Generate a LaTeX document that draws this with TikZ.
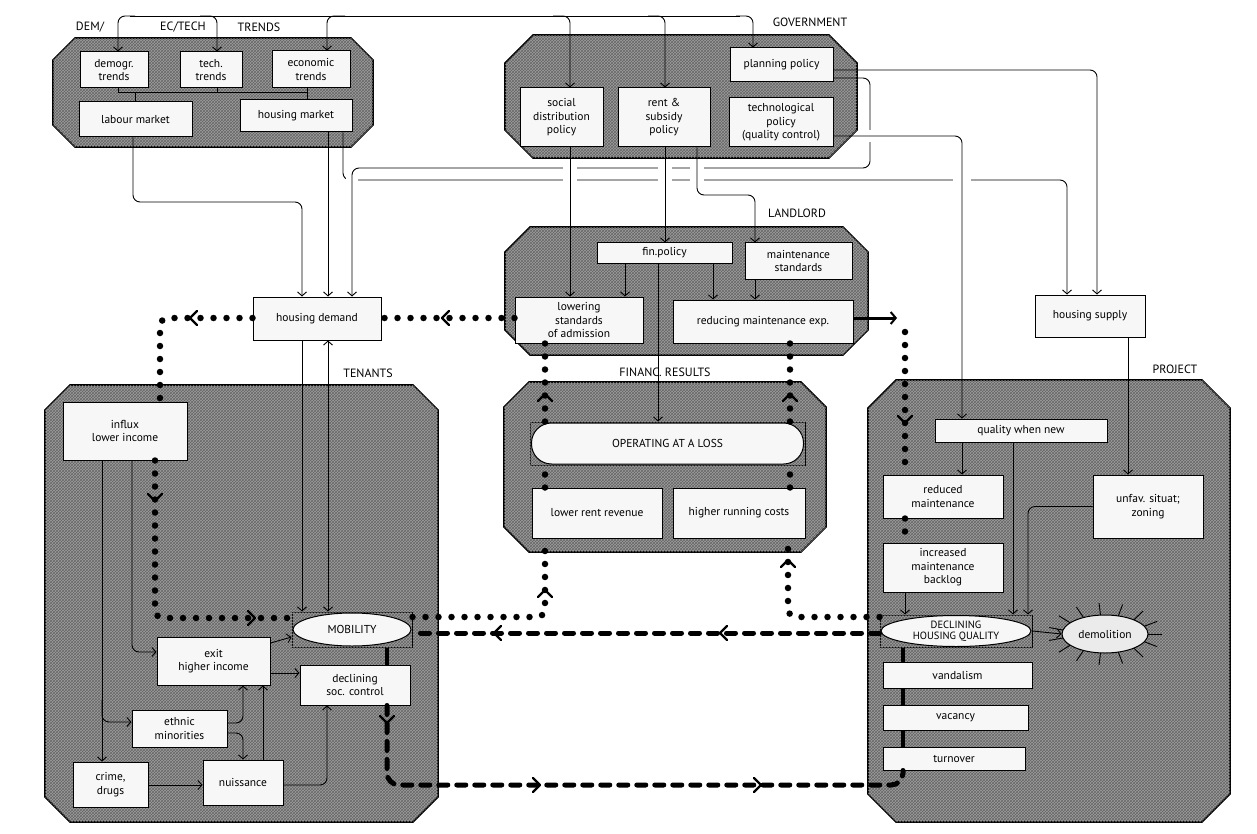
\documentclass[tikz,border=0pt]{standalone}
\usepackage{fontspec}
\setmainfont{PT Sans}
\usetikzlibrary{arrows.meta,patterns,calc,shapes.geometric}
\newcommand\octo[5]{\path[grp] (#1+#5,#2) -- (#3-#5,#2) -- (#3,#2+#5) -- (#3,#4-#5) -- (#3-#5,#4) -- (#1+#5,#4) -- (#1,#4-#5) -- (#1,#2+#5) -- cycle;}
\newcommand\chev[3]{\draw[line width=2.2pt, line cap=round, line join=round, rotate around={#3:(#1,#2)}] (#1-4,#2-7) -- (#1+3,#2) -- (#1-4,#2+7);}
\newcommand\gapat[3]{\draw[white, line width=3.5pt] (#1-#3,#2) -- (#1+#3,#2);}
\tikzset{
  grp/.style={draw=black, line width=1.6pt, fill=black!38, postaction={pattern=crosshatch, pattern color=black!60}},
  ring/.style={draw=black, line width=1pt, fill=black!38, postaction={pattern=crosshatch, pattern color=black!60}, inner sep=0pt},
  bx/.style={draw=black, line width=1pt, fill=black!3, align=center, inner sep=1pt, font=\fontsize{11.5}{13.5}\selectfont},
  inbox/.style={draw=black, line width=1pt, fill=black!3},
  captxt/.style={align=center, inner sep=0pt, font=\fontsize{11.5}{12.5}\selectfont},
  lbl/.style={inner sep=1pt, font=\fontsize{12}{14}\selectfont},
  con/.style={line width=0.9pt, rounded corners=7pt, -{Straight Barb[length=4pt,width=9pt]}},
  conb/.style={line width=0.9pt, {Straight Barb[length=4pt,width=9pt]}-{Straight Barb[length=4pt,width=9pt]}},
  dotl/.style={line width=6.5pt, line cap=round, dash pattern=on 0pt off 13pt, rounded corners=8pt},
  dashl/.style={line width=5pt, line cap=round, dash pattern=on 9pt off 9pt, rounded corners=12pt},
  thk/.style={line width=4.5pt}
}
\begin{document}
\begin{tikzpicture}[x=1pt,y=-1pt]
\fill[white] (0,0) rectangle (1257,834);
\useasboundingbox (0,0) rectangle (1257,834);

% group outlines
\octo{53}{38}{373}{147}{22}
\octo{505}{35}{857}{158}{28}
\octo{505}{227}{868}{355}{25}
\octo{504}{382}{826}{552}{25}
\octo{45}{385}{438}{822}{25}
\octo{868}{380}{1230}{822}{28}

% group labels
\node[lbl] at (90,27) {DEM/};
\node[lbl] at (183,27) {EC/TECH};
\node[lbl] at (259,27) {TRENDS};
\node[lbl] at (810,22) {GOVERNMENT};
\node[lbl] at (797,213) {LANDLORD};
\node[lbl] at (665,372) {FINANC. RESULTS};
\node[lbl] at (368,373) {TENANTS};
\node[lbl] at (1175,369) {PROJECT};

% trends
\node[bx, minimum width=68pt, minimum height=36pt] (dem) at (114,70) {demogr.\\trends};
\node[bx, minimum width=62pt, minimum height=36pt] (tec) at (211,70) {tech.\\trends};
\node[bx, minimum width=78pt, minimum height=37pt] (eco) at (311,69.5) {economic\\trends};
\node[bx, minimum width=113pt, minimum height=35pt] (lab) at (135.5,119.5) {labour market};
\node[bx, minimum width=112pt, minimum height=32pt] (hm) at (296,116) {housing market};

% government
\node[bx, minimum width=103pt, minimum height=34pt] (pp) at (781.5,65) {planning policy};
\node[bx, minimum width=83pt, minimum height=59pt] (sd) at (561.5,117.5) {social\\distribution\\policy};
\node[bx, minimum width=92pt, minimum height=59pt] (rs) at (664,117.5) {rent \&\\subsidy\\policy};
\node[bx, minimum width=104pt, minimum height=49pt] (tp) at (781,122.5) {technological\\policy\\(quality control)};

% landlord
\node[bx, minimum width=135pt, minimum height=20pt] (fp) at (664.5,253) {fin.policy};
\node[bx, minimum width=107pt, minimum height=36pt] (ms) at (798.5,261) {maintenance\\standards};
\node[bx, minimum width=128pt, minimum height=46pt] (low) at (579,320) {lowering\\standards\\of admission};
\node[bx, minimum width=180pt, minimum height=43pt] (red) at (763,321.5) {reducing maintenance exp.};

\node[bx, minimum width=128pt, minimum height=43pt] (hd) at (317,318.5) {housing demand};
\node[bx, minimum width=110pt, minimum height=42pt] (hs) at (1090,316) {housing supply};

% financial results
\node[ring, minimum width=275pt, minimum height=43pt] (op) at (667.5,443.5) {};
\draw[inbox, rounded corners=20pt] (op.center) ++(-136,-20.5) rectangle ++(272,41);
\node[captxt] at (op.center) {OPERATING AT A LOSS};
\node[bx, minimum width=130pt, minimum height=50pt] (lrr) at (597,513) {lower rent revenue};
\node[bx, minimum width=132pt, minimum height=50pt] (hrc) at (739,513) {higher running costs};

% tenants
\node[bx, minimum width=124pt, minimum height=58pt] (infl) at (125,431) {influx\\lower income};
\node[ring, minimum width=120pt, minimum height=35pt] (mob) at (352,629.5) {};
\draw[inbox] (mob.center) ellipse (59 and 16.5);
\node[captxt] at (mob.center) {MOBILITY};
\node[bx, minimum width=113pt, minimum height=48pt] (exit) at (213.5,661) {exit\\higher income};
\node[bx, minimum width=110pt, minimum height=40pt] (soc) at (355,685) {declining\\soc. control};
\node[bx, minimum width=95pt, minimum height=37pt] (eth) at (179.5,728.5) {ethnic\\minorities};
\node[bx, minimum width=75pt, minimum height=45pt] (crime) at (110.5,784.5) {crime,\\drugs};
\node[bx, minimum width=80pt, minimum height=45pt] (nu) at (243,782.5) {nuissance};

% project
\node[bx, minimum width=172pt, minimum height=23pt] (qn) at (1021,430.5) {quality when new};
\node[bx, minimum width=120pt, minimum height=43pt] (rm) at (943,496.5) {reduced\\maintenance};
\node[bx, minimum width=110pt, minimum height=63pt] (uf) at (1148,506.5) {unfav. situat;\\zoning};
\node[bx, minimum width=120pt, minimum height=49pt] (inc) at (943,567.5) {increased\\maintenance\\backlog};
\node[ring, minimum width=152pt, minimum height=32pt] (dhq) at (956,631) {};
\draw[inbox] (dhq.center) ellipse (75 and 15.5);
\node[captxt, font=\fontsize{10.5}{11.5}\selectfont] at (dhq.center) {DECLINING\\HOUSING QUALITY};
\node[draw, ellipse, fill=black!8, line width=1pt, minimum width=86pt, minimum height=38pt, inner sep=0pt, font=\fontsize{11.5}{13.5}\selectfont] (demo) at (1105,634) {demolition};
\node[bx, minimum width=149pt, minimum height=26pt] (van) at (957.5,675) {vandalism};
\node[bx, minimum width=145pt, minimum height=25pt] (vac) at (955.5,717.5) {vacancy};
\node[bx, minimum width=142pt, minimum height=23pt] (turn) at (954,758.5) {turnover};

% demolition spikes
\foreach \a in {0,24,...,359} {
  \draw[line width=0.9pt] ({1105+43*cos(\a)},{634+19*sin(\a)}) -- ({1105+57*cos(\a)},{634+31*sin(\a)});
}

% top bus from government to trends and policies
\draw[line width=0.9pt] (130,16) -- (740,16);
\draw[con] (135,16) -- (118,16) -- (dem.north -| 118,0);
\draw[con] (200,16) -- (217,16) -- (tec.north -| 217,0);
\draw[con] (345,16) -- (327,16) -- (eco.north -| 327,0);
\draw[con] (553,16) -- (570,16) -- (sd.north -| 570,0);
\draw[con] (648,16) -- (665,16) -- (rs.north -| 665,0);
\draw[con] (736,16) -- (753,16) -- (pp.north -| 753,0);

% trends internal
\draw[line width=0.9pt] (dem.south -| 118,0) -- (118,92) -- (307,92) -- (eco.south -| 307,0);
\draw[line width=0.9pt] (tec.south -| 217,0) -- (217,92);
\draw[line width=0.9pt] (135,92) -- (lab.north -| 135,0);
\draw[line width=0.9pt] (307,92) -- (hm.north -| 307,0);

% long connectors with line jumps
\draw[con] (hm.south -| 343,0) -- (343,180) -- (1067,180) -- (hs.north -| 1067,0);
\gapat{352}{180}{6}
\gapat{570}{180}{7}
\gapat{665}{180}{7}
\gapat{697}{180}{7}
\gapat{962}{180}{9}
\draw[con] (pp.east |- 0,78) -- (870,78) -- (870,168) -- (352,168) -- (hd.north -| 352,0);
\gapat{570}{168}{7}
\gapat{665}{168}{7}
\gapat{697}{168}{7}
\draw[white, line width=3.5pt] (870,130) -- (870,142);
\draw[con] (pp.east |- 0,70) -- (1097,70) -- (hs.north -| 1097,0);
\draw[con] (tp.east |- 0,136) -- (962,136) -- (qn.north -| 962,0);
\draw[con] (lab.south -| 133,0) -- (133,202) -- (302,202) -- (hd.north -| 302,0);
\draw[con] (hm.south -| 328,0) -- (hd.north -| 328,0);

% government to landlord
\draw[con] (sd.south -| 570,0) -- (low.north -| 570,0);
\draw[con] (rs.south -| 665,0) -- (fp.north -| 665,0);
\draw[con] (rs.south -| 697,0) -- (697,195) -- (755,195) -- (ms.north -| 755,0);
\draw[con] (fp.south -| 625,0) -- (low.north -| 625,0);
\draw[con] (fp.south -| 713,0) -- (red.north -| 713,0);
\draw[con] (ms.south -| 755,0) -- (red.north -| 755,0);
\draw[con] (fp.south -| 658,0) -- (op.north -| 658,0);

% housing demand / mobility
\draw[con] (hd.south -| 302,0) -- (mob.north -| 302,0);
\draw[conb] (hd.south -| 328,0) -- (mob.north -| 328,0);

% project internal
\draw[con] (hs.south -| 1128,0) -- (uf.north -| 1128,0);
\draw[con] (qn.south -| 962,0) -- (rm.north -| 962,0);
\draw[con] (qn.south -| 1013,0) -- (dhq.north -| 1013,0);
\draw[con] (uf.west) -- (1028,506.5) -- (dhq.north -| 1028,0);
\draw[con] (dhq.east) -- (demo.west);
\draw[con] (inc.south -| 905,0) -- (dhq.north -| 905,0);

% tenants internal
\draw[con] (infl.south -| 102,0) -- (crime.north -| 102,0);
\draw[con] (102,700) -- (102,722) -- (eth.west |- 0,722);
\draw[con] (infl.south -| 132,0) -- (132,652) -- (exit.west |- 0,652);
\draw[con] (exit.east |- 0,643) -- (mob.west |- 0,637);
\draw[con] (exit.east |- 0,673) -- (soc.west |- 0,673);
\draw[con] (eth.east |- 0,723) -- (243,723) -- (exit.south -| 243,0);
\draw[con] (eth.east |- 0,733) -- (243,733) -- (nu.north -| 243,0);
\draw[con] (nu.north -| 263,0) -- (exit.south -| 263,0);
\draw[con] (crime.east |- 0,785) -- (nu.west |- 0,785);
\draw[con] (nu.east |- 0,785) -- (327,785) -- (soc.south -| 327,0);

% dotted influence paths
\draw[dotl] (low.west |- 0,318) -- (hd.east |- 0,318);
\chev{445}{318}{180}
\draw[dotl] (hd.west |- 0,318) -- (160,318) -- (infl.north -| 160,0);
\chev{193}{318}{180}
\draw[dotl] (infl.south -| 155,0) -- (155,618) -- (mob.west |- 0,618);
\chev{155}{498}{-90}
\chev{252}{618}{0}
\draw[dotl] (mob.east |- 0,617) -- (545,617) -- (lrr.south -| 545,0);
\chev{545}{593}{90}
\draw[dotl] (dhq.west |- 0,617) -- (788,617) -- (hrc.south -| 788,0);
\chev{788}{563}{90}
\draw[dotl] (lrr.north -| 545,0) -- (op.south -| 545,0);
\draw[dotl] (op.north -| 545,0) -- (low.south -| 545,0);
\chev{545}{397}{90}
\draw[dotl] (hrc.north -| 790,0) -- (op.south -| 790,0);
\draw[dotl] (op.north -| 790,0) -- (red.south -| 790,0);
\chev{790}{397}{90}
\draw[line width=3pt, -{Straight Barb[length=5pt,width=12pt,line width=2pt]}] (red.east |- 0,318) -- (897,318);
\draw[dotl] (905,332) -- (rm.north -| 905,0);
\chev{905}{420}{-90}
\draw[dotl] (rm.south -| 905,0) -- (inc.north -| 905,0);

% thick dashed paths
\draw[dashl] (dhq.west |- 0,633) -- (mob.east |- 0,633);
\chev{497}{633}{180}
\chev{723}{633}{180}
\draw[thk] (mob.south -| 387,0) -- (soc.north -| 387,0);
\draw[dashl] (soc.south -| 387,0) -- (387,785) -- (903,785) -- (turn.south -| 903,0);
\chev{387}{720}{-90}
\chev{537}{785}{0}
\chev{758}{785}{0}
\draw[thk] (dhq.south -| 903,0) -- (van.north -| 903,0);
\draw[thk] (van.south -| 903,0) -- (vac.north -| 903,0);
\draw[thk] (vac.south -| 903,0) -- (turn.north -| 903,0);
\end{tikzpicture}
\end{document}
